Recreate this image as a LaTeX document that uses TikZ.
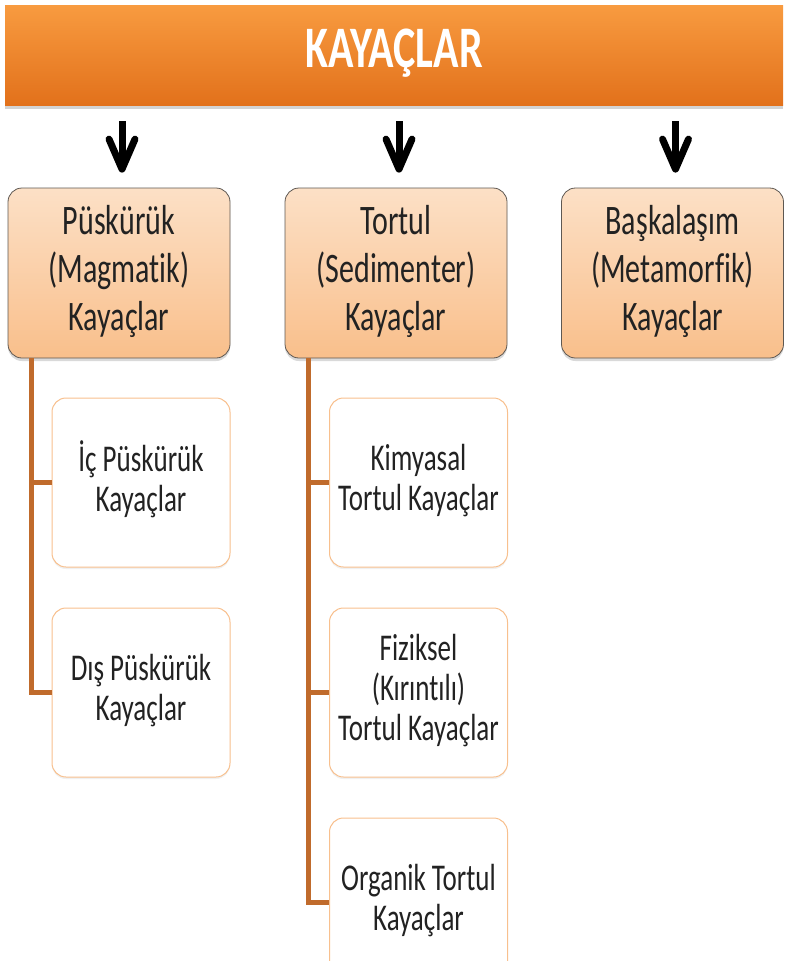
\documentclass[tikz,border=0pt]{standalone}
\usepackage{fontspec}
\setmainfont{Carlito}[Ligatures=NoCommon]
\usepackage{graphicx}
\usetikzlibrary{arrows.meta,calc,shadows}

\definecolor{bartop}{HTML}{F89B40}
\definecolor{barbottom}{HTML}{E2711B}
\definecolor{rocktop}{HTML}{FCE0C6}
\definecolor{rockbottom}{HTML}{F9BF8B}
\definecolor{rockline}{HTML}{5E5852}
\definecolor{subline}{HTML}{F8C08E}
\definecolor{branchbrown}{HTML}{C06B2C}
\definecolor{ink}{HTML}{222222}

% text of the source is stretched upwards
\newcommand{\tall}[1]{\scalebox{1}[1.4]{\begin{tabular}{@{}c@{}}#1\end{tabular}}}

\begin{document}
\begin{tikzpicture}[x=1pt,y=-1pt,
  titlebar/.style={minimum width=778pt,minimum height=100pt,inner sep=0pt,
    top color=bartop,bottom color=barbottom,text=white,
    font=\fontsize{42}{46}\selectfont\bfseries,
    drop shadow={opacity=0.35,shadow xshift=0pt,shadow yshift=-4pt}},
  rock/.style={rounded corners=14pt,draw=rockline,line width=0.8pt,
    top color=rocktop,bottom color=rockbottom,text=ink,
    minimum width=222pt,minimum height=170pt,inner sep=0pt,
    font=\fontsize{30}{34}\selectfont,
    drop shadow={opacity=0.3,shadow xshift=0pt,shadow yshift=-3pt}},
  subrock/.style={rounded corners=14pt,draw=subline,line width=1pt,fill=white,text=ink,
    minimum width=178pt,minimum height=169pt,inner sep=0pt,
    font=\fontsize{27}{28.5}\selectfont,
    drop shadow={opacity=0.12,shadow xshift=0pt,shadow yshift=-2pt}},
  downarrow/.style={-{Straight Barb[length=30pt,width=26pt,line width=7pt,round]},
    line width=7pt,shorten <=16pt,shorten >=15pt},
  branch/.style={draw=branchbrown,line width=5pt}]
\useasboundingbox (0,0) rectangle (792,961);
\clip (0,0) rectangle (792,961);

\node[titlebar] (kayaclar) at (394,55) {\tall{KAYAÇLAR}};

\node[rock] (puskuruk) at (119,273) {\tall{Püskürük\\(Magmatik)\\Kayaçlar}};
\node[rock] (tortul) at (396,273) {\tall{Tortul\\(Sedimenter)\\Kayaçlar}};
\node[rock] (baskalasim) at (672.5,273) {\tall{Başkalaşım\\(Metamorfik)\\Kayaçlar}};

\node[subrock] (ic) at (141,482.5) {\tall{İç Püskürük\\Kayaçlar}};
\node[subrock] (dis) at (141,692.5) {\tall{Dış Püskürük\\Kayaçlar}};
\node[subrock] (kimyasal) at (418.5,482.5) {\tall{Kimyasal\\Tortul Kayaçlar}};
\node[subrock] (fiziksel) at (418.5,692.5) {\tall{Fiziksel\\(Kırıntılı)\\Tortul Kayaçlar}};
\node[subrock] (organik) at (418.5,902.5) {\tall{Organik Tortul\\Kayaçlar}};

\foreach \r in {puskuruk,tortul,baskalasim}
  \draw[downarrow] ([xshift=3pt]kayaclar.south -| \r.north) -- ([xshift=3pt]\r.north);

\draw[branch] ($(puskuruk.south west)+(24,0)$) |- (ic.west);
\draw[branch] ($(puskuruk.south west)+(24,0)$) |- (dis.west);
\draw[branch] ($(tortul.south west)+(24,0)$) |- (kimyasal.west);
\draw[branch] ($(tortul.south west)+(24,0)$) |- (fiziksel.west);
\draw[branch] ($(tortul.south west)+(24,0)$) |- (organik.west);
\end{tikzpicture}
\end{document}
